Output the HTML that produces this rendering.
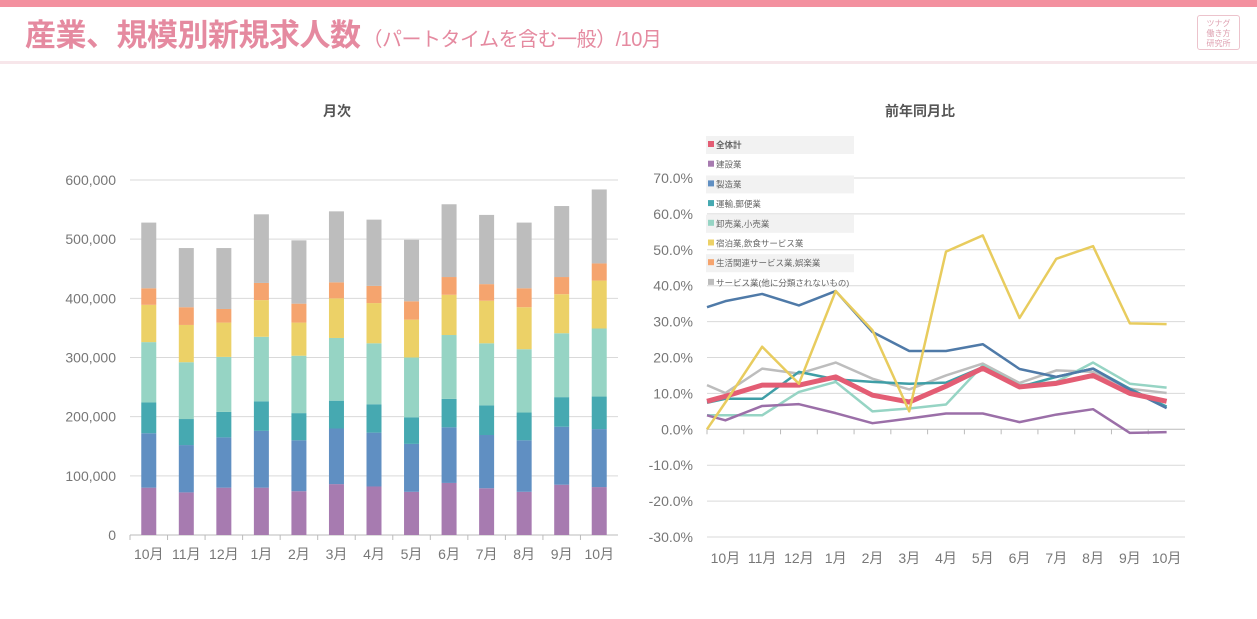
<!DOCTYPE html>
<html><head><meta charset="utf-8">
<style>
body{margin:0;width:1257px;height:619px;background:#fff;overflow:hidden;font-family:"Liberation Sans","Noto Sans CJK JP",sans-serif;}
#wrap{position:relative;width:1257px;height:619px;}
</style></head>
<body><div id="wrap">
<div style="position:absolute;left:0;top:0;width:1257px;height:7px;background:#f3909f"></div>
<div style="position:absolute;left:25px;top:17px;color:#e58aa0;font-size:31px;font-weight:bold;white-space:nowrap;letter-spacing:-0.5px;line-height:38px">産業、規模別新規求人数<span style="font-size:20px;font-weight:normal;margin-left:2px">（パートタイムを含む一般）/10月</span></div>
<div style="position:absolute;left:1197px;top:15px;width:43px;height:35px;border:1px solid #ecc3cc;border-radius:3px;color:#dea0b0;font-size:8px;line-height:10px;text-align:center;padding-top:3px;box-sizing:border-box">ツナグ<br>働き方<br>研究所</div>
<div style="position:absolute;left:0;top:61px;width:1257px;height:3px;background:#f7e6ea"></div>
<svg id="chart" width="1257" height="619" style="position:absolute;left:0;top:0"></svg>
</div>
<script>
const months=["10月","11月","12月","1月","2月","3月","4月","5月","6月","7月","8月","9月","10月"];
const barTicks=[0,100000,200000,300000,400000,500000,600000];
const seriesNames=["建設業","製造業","運輸,郵便業","卸売業,小売業","宿泊業,飲食サービス業","生活関連サービス業,娯楽業","サービス業(他に分類されないもの)"];
const sConstr=[80,72,80,80,74,86,82,73,88,79,73,85,81];
const sManuf=[92,80,85,96,86,94,91,81,94,90,87,98,98];
const sTrans=[52,44,43,50,46,47,48,45,48,50,47,50,55];
const sRetail=[102,96,93,109,97,106,103,101,108,105,107,108,115];
const sHotel=[63,63,58,62,56,67,68,64,68,72,71,66,81];
const sLife=[28,30,23,29,32,27,29,31,30,28,32,29,29];
const sOther=[111,100,103,116,107,120,112,104,123,117,111,120,125];
const lineTicks=[70,60,50,40,30,20,10,0,-10,-20,-30];
const lTotal=[7.8,9.2,12.3,12.3,14.6,9.5,7.6,12.0,17.0,11.8,12.8,15.0,10.0,7.8];
const lConstr=[3.9,2.5,6.5,7.0,4.5,1.7,3.0,4.4,4.4,2.0,4.1,5.6,-1.0,-0.8];
const lManuf=[34,35.7,37.7,34.5,38.5,27.1,21.8,21.8,23.7,16.8,14.6,16.9,11,5.9];
const lTrans=[7.4,8.5,8.5,16,13.9,13.2,12.7,13,17.3,11.8,14.6,16.9,11.3,6.3];
const lRetail=[3.9,3.9,3.9,10.4,13.2,5,5.8,6.9,17.8,12.3,13.2,18.6,12.7,11.6];
const lHotel=[0,7.5,23,12.7,38.5,27.6,5,49.5,54,31,47.5,51,29.5,29.3];
const lLife=[];
const lOther=[12.3,10.1,16.9,15.5,18.6,14.1,11.1,15,18.3,12.9,16.4,16,11.3,10.1];

const svg=document.getElementById('chart');
const NS='http://www.w3.org/2000/svg';
function el(t,a,p){const e=document.createElementNS(NS,t);for(const k in a)e.setAttribute(k,a[k]);(p||svg).appendChild(e);return e;}
const colors=["#a77bb0","#608fc2","#46a9b1","#96d4c4","#ecd167","#f5a46e","#bdbdbd"];
const txtCol="#777";
const FONT='"Liberation Sans","Noto Sans CJK JP",sans-serif';

let t=el('text',{x:337,y:116,'text-anchor':'middle','font-size':14,'font-weight':'bold',fill:'#555','font-family':FONT});t.textContent="月次";


t=el('text',{x:920,y:116,'text-anchor':'middle','font-size':14,'font-weight':'bold',fill:'#555','font-family':FONT});t.textContent="前年同月比";



const bx0=130,bx1=618,by0=535,by1=180,bmax=600000;
const bw=(bx1-bx0)/months.length;
const yB=v=>by0-(v/bmax)*(by0-by1);
const xB=i=>bx0+bw*(i+0.5);
barTicks.forEach(v=>{
  if(v>0){const g=el('line',{x1:bx0,x2:bx1,y1:yB(v),y2:yB(v),stroke:'#d9d9d9','stroke-width':1});
  
  }
  const l=el('text',{x:116,y:yB(v)+5,'text-anchor':'end','font-size':14,fill:txtCol,'font-family':FONT});
  l.textContent=v.toLocaleString('en-US');
  
  
});
let ax=el('line',{x1:bx0,x2:bx1,y1:by0,y2:by0,stroke:'#bbb','stroke-width':1});


const stacks=[sConstr,sManuf,sTrans,sRetail,sHotel,sLife,sOther];
months.forEach((m,i)=>{
  let cum=0;
  stacks.forEach((s,k)=>{
    const v=s[i]*1000;
    const r=el('rect',{x:xB(i)-7.5,width:15,y:yB(cum+v),height:yB(cum)-yB(cum+v),fill:colors[k]});
    
    
    cum+=v;
  });
  const tk=el('line',{x1:bx0+bw*i,x2:bx0+bw*i,y1:by0,y2:by0+5,stroke:'#bbb'});
  
  
  const l=el('text',{x:xB(i),y:559,'text-anchor':'middle','font-size':14,fill:txtCol,'font-family':FONT});
  l.textContent=m;
  
  
});

const lx0=707,lx1=1185,ly70=178,ly_30=537;
const lw=(lx1-lx0)/months.length;
const yL=v=>ly70+(70-v)/100*(ly_30-ly70);
const xL=i=>i===0?lx0:lx0+lw*(i-0.5);
lineTicks.forEach(v=>{
  const g=el('line',{x1:lx0,x2:lx1,y1:yL(v),y2:yL(v),stroke:v===0?'#bbb':'#d9d9d9','stroke-width':1});
  
  
  const l=el('text',{x:693,y:yL(v)+5,'text-anchor':'end','font-size':14,fill:txtCol,'font-family':FONT});
  l.textContent=v.toFixed(1)+"%";
  
  
});
months.forEach((m,i)=>{
  const tk=el('line',{x1:lx0+lw*i,x2:lx0+lw*i,y1:yL(0),y2:yL(0)+5,stroke:'#bbb'});
  
  
  const l=el('text',{x:lx0+lw*(i+0.5),y:563,'text-anchor':'middle','font-size':14,fill:txtCol,'font-family':FONT});
  l.textContent=m;
  
  
});
const lineSets=[[lOther,colors[6],2.5,'line-other-services'],[lRetail,colors[3],2.5,'line-retail'],[lTrans,'#3f9ea6',2.5,'line-transport'],[lConstr,'#9b6fa8',2.5,'line-construction'],[lManuf,'#4f7aa8',2.5,'line-manufacturing'],[lTotal,'#e35d74',5,'line-total'],[lHotel,'#e8cc5e',2.5,'line-hotel-food']];
lineSets.forEach(([d,c,w,n])=>{
  if(!d.length)return;
  const p=el('polyline',{points:d.map((v,i)=>xL(i)+','+yL(v)).join(' '),fill:'none',stroke:c,'stroke-width':w,'stroke-linejoin':'round'});
  
  
});
const legNames=["全体計"].concat(seriesNames);
const legCols=["#e35d74"].concat(colors);
legNames.forEach((n,i)=>{
  const y=136+i*19.7;
  if(i%2===0){const b=el('rect',{x:706,y:y,width:148,height:18,fill:'#f2f2f2'});
  
  }
  const s=el('rect',{x:708,y:y+5,width:6,height:6,fill:legCols[i]});
  
  
  const l=el('text',{x:716,y:y+12,'font-size':8.5,fill:'#666','font-weight':i===0?'bold':'normal','font-family':FONT});
  l.textContent=n;
  
  
});
</script>
</body></html>
